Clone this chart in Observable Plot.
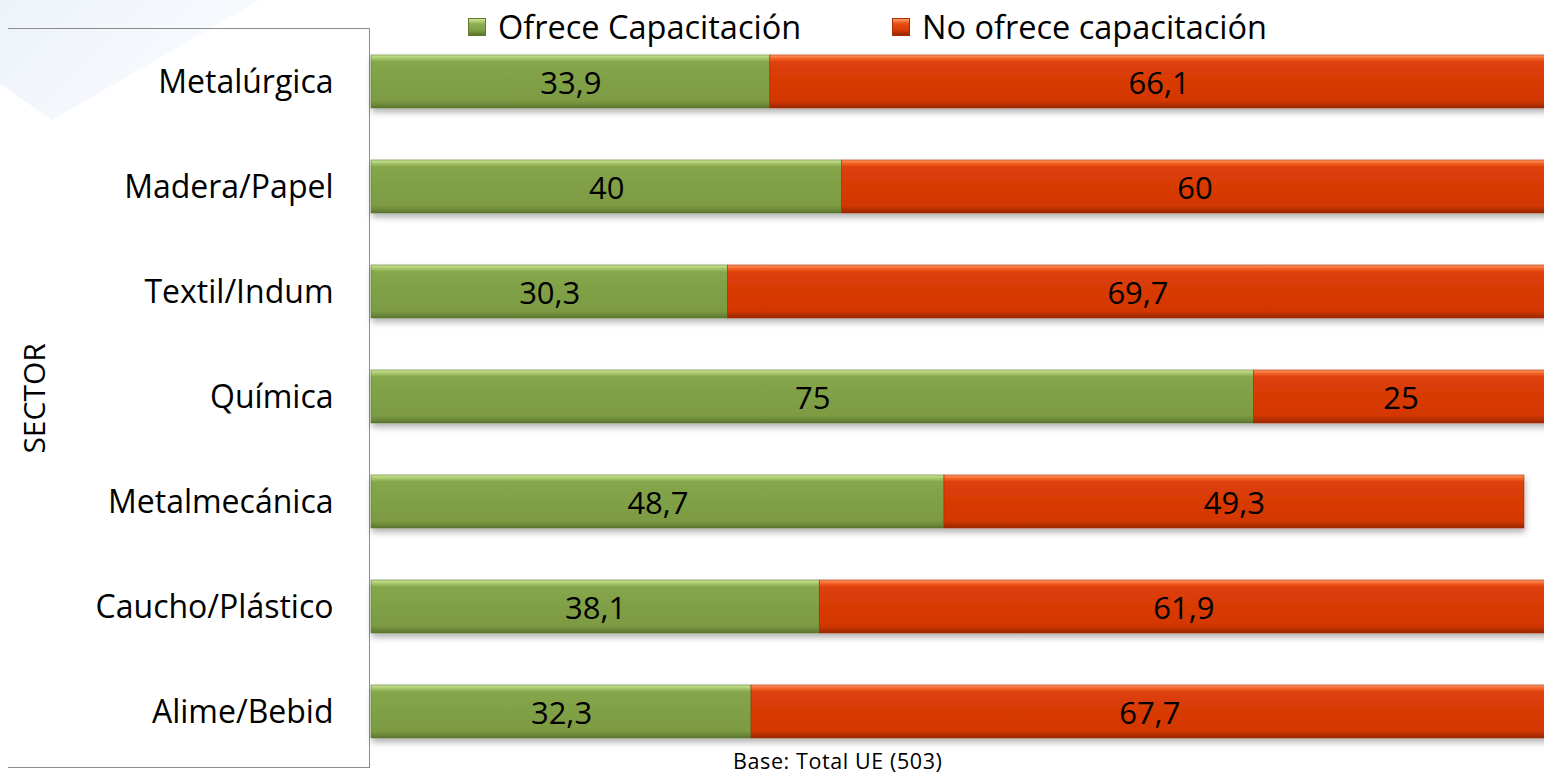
<!DOCTYPE html>
<html>
<head>
<meta charset="utf-8">
<script src="https://cdn.jsdelivr.net/npm/d3@7"></script>
<script src="https://cdn.jsdelivr.net/npm/@observablehq/plot@0.6"></script>
<style>
  html, body { margin: 0; padding: 0; background: #fff; }
  #wrap { position: relative; width: 1544px; height: 775px; overflow: hidden; font-family: "Open Sans", sans-serif; }
  #bgdeco { position: absolute; left: 0; top: 0; width: 260px; height: 120px; background: linear-gradient(135deg, #edf3fa 0%, #f6f9fd 60%, #ffffff 100%); clip-path: polygon(0 0, 100% 0, 20% 100%, 0 70%); }
  #box { position: absolute; left: 8px; top: 28px; width: 362px; height: 740px; border-top: 1.5px solid #8c8c8c; border-right: 1.5px solid #8c8c8c; border-bottom: 1.5px solid #8c8c8c; box-sizing: border-box; }
  #legend { position: absolute; top: 5px; left: 0; width: 1544px; height: 44px; }
  .lg { position: absolute; top: 0; display: flex; align-items: center; font-size: 32.5px; color: #000; line-height: 44px; }
  .sw { width: 18px; height: 18px; margin-right: 12px; box-sizing: border-box; }
  #caption { position: absolute; top: 746px; left: 733px; font-size: 21.5px; color: #000; white-space: nowrap; letter-spacing: 0.6px; }
  svg { position: absolute; left: 0; top: 0; }
</style>
</head>
<body>
<div id="wrap">
  <div id="bgdeco"></div>
  <div id="box"></div>
  <div id="chart"></div>
  <div id="legend"></div>
  <div id="caption">Base: Total UE (503)</div>
</div>
<script>
// ---- Data ----
const sectors = ["Metalúrgica", "Madera/Papel", "Textil/Indum", "Química", "Metalmecánica", "Caucho/Plástico", "Alime/Bebid"];
const seriesNames = ["Ofrece Capacitación", "No ofrece capacitación"];
const ofrece = [33.9, 40, 30.3, 75, 48.7, 38.1, 32.3];
const noOfrece = [66.1, 60, 69.7, 25, 49.3, 61.9, 67.7];
const valueLabels = [
  ["33,9", "40", "30,3", "75", "48,7", "38,1", "32,3"],
  ["66,1", "60", "69,7", "25", "49,3", "61,9", "67,7"]
];
const axisTitle = "SECTOR";
const seriesColors = ["#7f9f45", "#d73a05"];

const rows = [];
sectors.forEach((s, i) => {
  rows.push({sector: s, series: seriesNames[0], value: ofrece[i], label: valueLabels[0][i]});
  rows.push({sector: s, series: seriesNames[1], value: noOfrece[i], label: valueLabels[1][i]});
});

const gradId = {[seriesNames[0]]: "url(#gGreen)", [seriesNames[1]]: "url(#gRed)"};

const chart = Plot.plot({
  width: 1544,
  height: 775,
  marginLeft: 371,
  marginRight: 0,
  marginTop: 25.6,
  marginBottom: 8.8,
  style: {fontFamily: "Open Sans, sans-serif", background: "transparent", overflow: "hidden"},
  x: {domain: [0, 100], range: [371, 1547.5], axis: null},
  y: {domain: sectors, paddingInner: 0.5, paddingOuter: 0.25, label: null, tickSize: 0, tickPadding: 38},
  color: {domain: seriesNames, range: seriesColors},
  marks: [
    Plot.barX(rows, Plot.stackX({
      x: "value", y: "sector", z: "series", order: seriesNames,
      fill: d => gradId[d.series], inset: 0,
      stroke: d => d.series === seriesNames[0] ? "#5f7a2e" : "#a82c02", strokeWidth: 0.6
    })),
    Plot.text(rows, Plot.stackX({
      x: "value", y: "sector", z: "series", order: seriesNames,
      text: "label", fontSize: 31, fill: "#000", dy: 2
    })),
    Plot.axisY({tickSize: 0, tickPadding: 38, fontSize: 32, textAnchor: "end", label: null, dy: 1}),
    Plot.text([axisTitle], {frameAnchor: "left", dx: -336, dy: 2, rotate: -90, textAnchor: "middle", fontSize: 30, fill: "#000"})
  ]
});

// gradients for the bevelled bars
const svg = d3.select(chart);
const defs = svg.insert("defs", ":first-child");
function grad(id, stops) {
  const g = defs.append("linearGradient").attr("id", id).attr("x1", 0).attr("y1", 0).attr("x2", 0).attr("y2", 1);
  stops.forEach(([o, c]) => g.append("stop").attr("offset", o).attr("stop-color", c));
}
grad("gGreen", [["0", "#cfe69a"], ["0.06", "#a9c96d"], ["0.13", "#86a64c"], ["0.5", "#80a046"], ["0.86", "#7c9b43"], ["0.93", "#6e8b3a"], ["1", "#5a7330"]]);
grad("gRed", [["0", "#ff9a6a"], ["0.06", "#f6672a"], ["0.13", "#dd400a"], ["0.5", "#d83a05"], ["0.86", "#d33804"], ["0.93", "#b83003"], ["1", "#962600"]]);
const f = defs.append("filter").attr("id", "shadow").attr("x", "-5%").attr("y", "-20%").attr("width", "110%").attr("height", "160%");
f.append("feDropShadow").attr("dx", 1).attr("dy", 4).attr("stdDeviation", 3).attr("flood-color", "#000").attr("flood-opacity", 0.3);
svg.selectAll("g[aria-label='bar']").attr("filter", "url(#shadow)");
svg.selectAll("g[aria-label='y-axis tick label'] text, g[aria-label='y-axis tick label']").attr("fill", "#000");

document.getElementById("chart").appendChild(chart);

// legend
const legend = document.getElementById("legend");
const legPos = [468, 892];
const swGrad = [
  "linear-gradient(180deg, #cfe69a 0%, #8fb052 30%, #7f9f45 70%, #5a7330 100%)",
  "linear-gradient(180deg, #ff9a6a 0%, #e84d14 30%, #d73a05 70%, #962600 100%)"
];
seriesNames.forEach((name, i) => {
  const item = document.createElement("div");
  item.className = "lg";
  item.style.left = legPos[i] + "px";
  const sw = document.createElement("div");
  sw.className = "sw";
  sw.style.background = swGrad[i];
  sw.style.border = "1px solid " + (i === 0 ? "#5f7a2e" : "#a82c02");
  const t = document.createElement("span");
  t.textContent = name;
  item.appendChild(sw);
  item.appendChild(t);
  legend.appendChild(item);
});
</script>
</body>
</html>
